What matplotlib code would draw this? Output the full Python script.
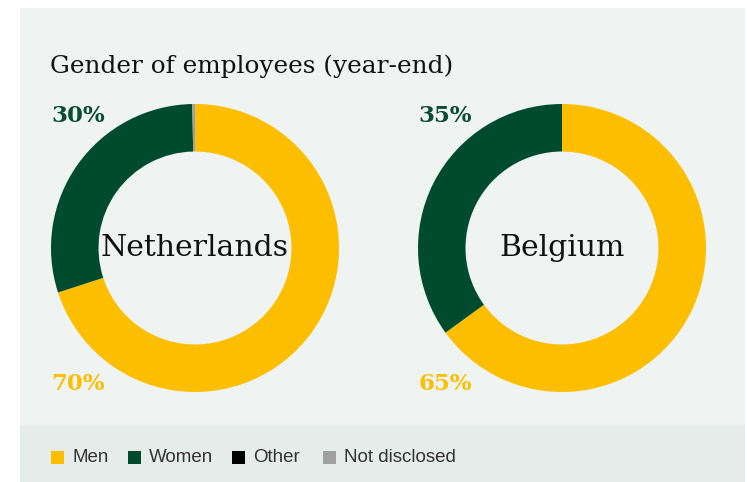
import matplotlib
matplotlib.use('agg')
import matplotlib.pyplot as plt
from matplotlib.patches import Rectangle

# data
categories = ['Men', 'Women', 'Other', 'Not disclosed']
colors = ['#FDBE00', '#004B30', '#000000', '#A0A0A0']
countries = ['Netherlands', 'Belgium']
nl_values = [70.0, 29.7, 0.0, 0.3]
be_values = [65.0, 35.0, 0.0, 0.0]
title = 'Gender of employees (year-end)'

W, H = 747, 482
fig = plt.figure(figsize=(W / 100, H / 100), dpi=100)
fig.patch.set_facecolor('white')


def px(x, y):
    # pixel coords (top-left origin) -> figure fraction
    return x / W, 1 - y / H


# background panels
fig.patches.append(Rectangle(px(20, 425), 725 / W, 417 / H, transform=fig.transFigure,
                             facecolor='#EFF3F2', edgecolor='none', zorder=-2))
fig.patches.append(Rectangle(px(20, 482), 725 / W, 57 / H, transform=fig.transFigure,
                             facecolor='#E6ECEA', edgecolor='none', zorder=-2))

fig.text(*px(50, 66), title, fontsize=17.8, family='DejaVu Serif', color='#111111',
         va='center', ha='left')

centers_x = [195, 562]
radius_px = 144
cy = 248
for name, vals, cx in zip(countries, [nl_values, be_values], centers_x):
    x0, y0 = px(cx - radius_px, cy + radius_px)
    ax = fig.add_axes([x0, y0, 2 * radius_px / W, 2 * radius_px / H])
    v = [(val, c) for val, c in zip(vals, colors) if val > 0]
    ax.pie([a for a, _ in v], colors=[c for _, c in v], startangle=90, counterclock=False,
           radius=1.0, wedgeprops=dict(width=0.33, linewidth=0))
    ax.set_xlim(-1, 1)
    ax.set_ylim(-1, 1)
    ax.set_aspect('equal')
    ax.axis('off')
    ax.text(0, 0, name, ha='center', va='center', fontsize=21.5, family='DejaVu Serif',
            color='#111111')
    fig.text(*px(cx - radius_px, 116), '{:.0f}%'.format(vals[1]), fontsize=16.5,
             fontweight='bold', family='DejaVu Serif', color='#0B4A33', va='center', ha='left')
    fig.text(*px(cx - radius_px, 384), '{:.0f}%'.format(vals[0]), fontsize=16.5,
             fontweight='bold', family='DejaVu Serif', color='#FDBE00', va='center', ha='left')

# legend
leg_x = [51, 128, 232, 323]
for cat, col, lx in zip(categories, colors, leg_x):
    fig.patches.append(Rectangle(px(lx, 464), 13 / W, 13 / H, transform=fig.transFigure,
                                 facecolor=col, edgecolor='none', zorder=1))
    fig.text(*px(lx + 21, 458), cat, fontsize=13.5, family='Liberation Sans',
             color='#333333', va='center', ha='left')

fig.savefig('out.png', dpi=100, facecolor=fig.get_facecolor())
